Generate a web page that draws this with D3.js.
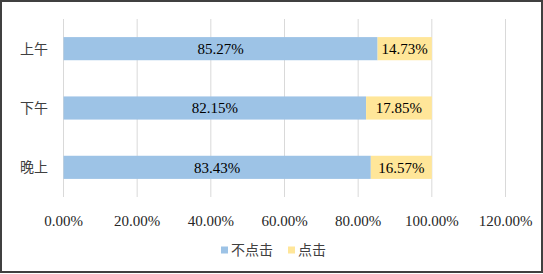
<!DOCTYPE html>
<html>
<head>
<meta charset="utf-8">
<script src="https://cdn.jsdelivr.net/npm/d3@7"></script>
<style>
  html, body { margin: 0; padding: 0; background: #fff; }
  svg { display: block; }
</style>
</head>
<body>
<svg id="chart" width="543" height="274"></svg>
<script>
// categories and series
var periods = ['上午', '下午', '晚上'];
var noClick = [85.27, 82.15, 83.43];
var click = [14.73, 17.85, 16.57];
var seriesNames = ['不点击', '点击'];
var xTicks = [0, 20, 40, 60, 80, 100, 120];

var colors = ['#9DC3E6', '#FFE699'];
var numFont = '"Liberation Serif", "Times New Roman", serif';
var cjkFont = '"Noto Sans CJK SC", "Liberation Serif", serif';

var svg = d3.select('#chart');

//outer frame
svg.append('rect')
    .attr('x', 1).attr('y', 1)
    .attr('width', 541).attr('height', 271)
    .attr('fill', '#fff')
    .attr('stroke', '#404040')
    .attr('stroke-width', 2);

var x = d3.scaleLinear().domain([0, 120]).range([63.5, 505.5]);
var y = d3.scaleBand().domain(periods).range([19, 197])
    .paddingInner(0.61).paddingOuter(0.305);

//gridlines
svg.append('g').selectAll('line')
    .data(xTicks)
    .enter().append('line')
    .attr('x1', function (d) { return x(d); })
    .attr('x2', function (d) { return x(d); })
    .attr('y1', 19).attr('y2', 197)
    .attr('stroke', '#D9D9D9')
    .attr('stroke-width', 1);

//stacked bars
var rows = periods.map(function (p, i) {
    return { period: p, values: [noClick[i], click[i]] };
});

var barG = svg.append('g');
rows.forEach(function (r) {
    var start = 0;
    r.values.forEach(function (v, k) {
        var x0 = x(start), x1 = x(start + v);
        barG.append('rect')
            .attr('x', x0)
            .attr('y', y(r.period))
            .attr('width', x1 - x0)
            .attr('height', y.bandwidth())
            .attr('fill', colors[k]);
        barG.append('text')
            .attr('x', (x0 + x1) / 2)
            .attr('y', y(r.period) + y.bandwidth() / 2)
            .attr('dy', '0.35em')
            .attr('text-anchor', 'middle')
            .style('font-family', numFont)
            .style('font-size', '15px')
            .attr('fill', '#000')
            .text(v.toFixed(2) + '%');
        start += v;
    });
});

//category labels
svg.append('g').selectAll('text')
    .data(periods)
    .enter().append('text')
    .attr('x', 48)
    .attr('y', function (d) { return y(d) + y.bandwidth() / 2; })
    .attr('dy', '0.35em')
    .attr('text-anchor', 'end')
    .style('font-family', cjkFont)
    .style('font-size', '14px')
    .attr('fill', '#404040')
    .text(function (d) { return d; });

//x tick labels
svg.append('g').selectAll('text')
    .data(xTicks)
    .enter().append('text')
    .attr('x', function (d) { return x(d); })
    .attr('y', 221)
    .attr('dy', '0.35em')
    .attr('text-anchor', 'middle')
    .style('font-family', numFont)
    .style('font-size', '15px')
    .attr('fill', '#262626')
    .text(function (d) { return d.toFixed(2) + '%'; });

//legend
var legendX = [221, 288];
var legend = svg.append('g');
seriesNames.forEach(function (name, k) {
    legend.append('rect')
        .attr('x', legendX[k]).attr('y', 246.5)
        .attr('width', 7).attr('height', 7)
        .attr('fill', colors[k]);
    legend.append('text')
        .attr('x', legendX[k] + 10)
        .attr('y', 250)
        .attr('dy', '0.35em')
        .style('font-family', cjkFont)
        .style('font-size', '14px')
        .attr('fill', '#404040')
        .text(name);
});
</script>
</body>
</html>
